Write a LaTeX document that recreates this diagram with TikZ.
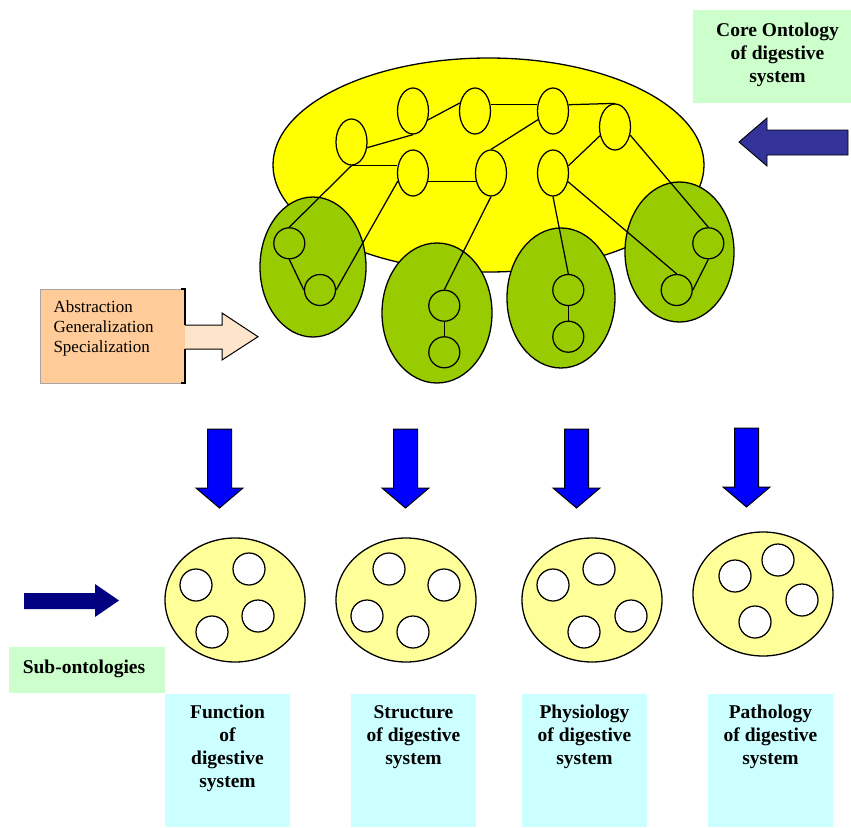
\documentclass[tikz,border=0pt]{standalone}
\usepackage{fontspec}
\setmainfont{Liberation Serif}
\usetikzlibrary{shapes.geometric}
\definecolor{coreyellow}{HTML}{FFFF00}
\definecolor{subgreen}{HTML}{99CC00}
\definecolor{paleyellow}{HTML}{FFFF99}
\definecolor{boxgreen}{HTML}{CCFFCC}
\definecolor{boxcyan}{HTML}{CCFFFF}
\definecolor{peach}{HTML}{FFCC99}
\definecolor{lightpeach}{HTML}{FFE4CC}
\definecolor{slateblue}{HTML}{333399}
\definecolor{pureblue}{HTML}{0000FF}
\definecolor{navyblue}{HTML}{000080}
\begin{document}
\begin{tikzpicture}[x=1pt,y=-1pt,
  ynode/.style={ellipse,draw,fill=coreyellow,line width=1.25pt,minimum width=31pt,minimum height=46pt,inner sep=0pt},
  gnode/.style={circle,draw,fill=subgreen,line width=1.25pt,minimum size=31pt,inner sep=0pt},
  wnode/.style={circle,draw,fill=white,line width=1.25pt,minimum size=32pt,inner sep=0pt},
  gblob/.style={ellipse,draw,fill=subgreen,line width=1.3pt,inner sep=0pt,minimum height=140pt},
  pblob/.style={ellipse,draw,fill=paleyellow,line width=1.3pt,inner sep=0pt,minimum width=140pt,minimum height=124pt},
  link/.style={line width=1.25pt},
  boldtxt/.style={font=\fontsize{19.5}{23}\selectfont\bfseries,align=center,inner sep=0pt},
  dnarrow/.style={fill=pureblue,draw=black,line width=1pt,line join=miter}
]
\useasboundingbox (0,0) rectangle (851,827);

% core ontology ellipse
\node[ellipse,draw,fill=coreyellow,line width=1.3pt,minimum width=431pt,minimum height=214pt,inner sep=0pt] (core) at (488.5,165) {};

% sub blobs
\node[gblob,minimum width=106pt] (G1) at (313,267) {};
\node[gblob,minimum width=110pt] (G2) at (437,313) {};
\node[gblob,minimum width=108pt] (G3) at (561,298) {};
\node[gblob,minimum width=109pt] (G4) at (679.5,252) {};

% concept nodes in core
\node[ynode] (A) at (351.5,142) {};
\node[ynode] (B) at (413,111) {};
\node[ynode] (C) at (475,111) {};
\node[ynode] (D) at (553,111) {};
\node[ynode] (E) at (615,127) {};
\node[ynode] (F) at (413,173) {};
\node[ynode] (G) at (491,173) {};
\node[ynode] (H) at (553,173) {};

% concept nodes in sub blobs
\node[gnode] (g1a) at (289.3,243.3) {};
\node[gnode] (g1b) at (320,290) {};
\node[gnode] (g2a) at (444.3,305.7) {};
\node[gnode] (g2b) at (444.3,352.3) {};
\node[gnode] (g3a) at (568.3,290) {};
\node[gnode] (g3b) at (568.3,336.7) {};
\node[gnode] (g4a) at (708.3,243.3) {};
\node[gnode] (g4b) at (676.7,290) {};

% links
\draw[link] (A.-20) -- (B.south);
\draw[link] (B.-31) -- (C.152);
\draw[link] (C.22) -- (D.158);
\draw[link] (D.22) -- (E.north);
\draw[link] (A.south) -- (A.south -| F.west);
\draw[link] (F.-30) -- (G.210);
\draw[link] (D.210) -- (G.north);
\draw[link] (E.210) -- (H.25);
\draw[link] (A.south) -- (g1a.north);
\draw[link] (g1a.south) -- (g1b.west);
\draw[link] (F.208) -- (g1b.east);
\draw[link] (G.south) -- (g2a.north);
\draw[link] (g2a.south) -- (g2b.north);
\draw[link] (H.south) -- (g3a.north);
\draw[link] (g3a.south) -- (g3b.north);
\draw[link] (H.-30) -- (g4b.north);
\draw[link] (E.-28) -- (g4a.north);
\draw[link] (g4a.south) -- (g4b.east);

% Core Ontology label and arrow
\fill[boxgreen] (693,10) rectangle (851,103);
\node[boldtxt,anchor=north] (corelbl) at (777.5,22.5) {Core Ontology\\of digestive\\system};
\draw[fill=slateblue,draw=black,line width=0.9pt,line join=miter]
  (848,130) -- (767,130) -- (767,118) -- (739,142) -- (767,166) -- (767,155) -- (848,155) -- cycle;

% Abstraction callout
\fill[peach,draw=black!35,line width=0.5pt] (40,289) rectangle (185,383);
\draw[fill=lightpeach,draw=black,line width=1pt,line join=miter]
  (185,325) -- (222,325) -- (222,313) -- (258,336.7) -- (222,360) -- (222,349) -- (185,349);
\draw[line width=1.2pt] (181,289) -- (185,289) -- (185,325);
\draw[line width=1.2pt] (185,349) -- (185,383) -- (181,383);
\node[font=\fontsize{17}{20}\selectfont,align=left,anchor=north west,inner sep=0pt] (abslbl) at (53.3,300.4)
  {Abstraction\\Generalization\\Specialization};

% down arrows
\foreach \cx/\tp in {219.5/429,405.5/429,576.5/429,746.5/428}{
  \draw[dnarrow] (\cx-12,\tp) -- (\cx+12,\tp) -- (\cx+12,\tp+59) -- (\cx+23.5,\tp+59)
    -- (\cx,\tp+79) -- (\cx-23.5,\tp+59) -- (\cx-12,\tp+59) -- cycle;
}

% sub-ontology ellipses
\node[pblob] (S1) at (235,600) {};
\node[pblob] (S2) at (406,600) {};
\node[pblob] (S3) at (592,600) {};
\node[pblob] (S4) at (763,594) {};
\node[wnode] (s1a) at (196,585) {};
\node[wnode] (s1b) at (249,569) {};
\node[wnode] (s1c) at (258,616) {};
\node[wnode] (s1d) at (212,632) {};
\node[wnode] (s2a) at (389,569) {};
\node[wnode] (s2b) at (444,585) {};
\node[wnode] (s2c) at (367,616) {};
\node[wnode] (s2d) at (413,632) {};
\node[wnode] (s3a) at (553,585) {};
\node[wnode] (s3b) at (599,569) {};
\node[wnode] (s3c) at (631,616) {};
\node[wnode] (s3d) at (584,632) {};
\node[wnode] (s4a) at (735,576) {};
\node[wnode] (s4b) at (778,560) {};
\node[wnode] (s4c) at (802,600) {};
\node[wnode] (s4d) at (755,622) {};

% Sub-ontologies arrow and label
\fill[navyblue] (24,593) -- (95,593) -- (95,584) -- (119,600.5) -- (95,617) -- (95,609) -- (24,609) -- cycle;
\fill[boxgreen] (9,647) rectangle (165,693);
\node[boldtxt,anchor=base] (sublbl) at (84,673) {Sub-ontologies};

% bottom labels
\fill[boxcyan] (165,694) rectangle (290,827);
\fill[boxcyan] (351,694) rectangle (476,827);
\fill[boxcyan] (522,694) rectangle (647,827);
\fill[boxcyan] (708,694) rectangle (833,827);
\node[boldtxt,anchor=north] (fnlbl) at (227.5,705) {Function\\of\\digestive\\system};
\node[boldtxt,anchor=north] (stlbl) at (413.5,705) {Structure\\of digestive\\system};
\node[boldtxt,anchor=north] (phlbl) at (584.5,705) {Physiology\\of digestive\\system};
\node[boldtxt,anchor=north] (palbl) at (770.5,705) {Pathology\\of digestive\\system};
\end{tikzpicture}
\end{document}
